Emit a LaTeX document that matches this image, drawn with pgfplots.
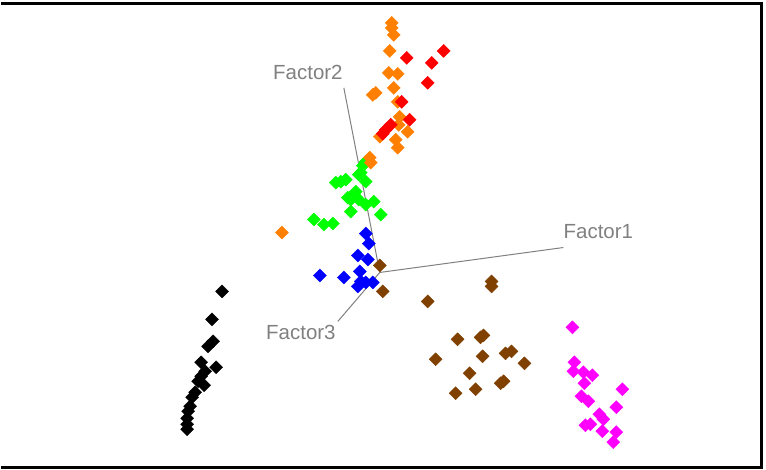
\documentclass[border=0pt]{standalone}
\usepackage{pgfplots}
\pgfplotsset{compat=1.18}
\usepackage{fontspec}
\setmainfont{Liberation Sans}
\definecolor{corange}{RGB}{255,128,0}
\definecolor{cbrown}{RGB}{128,64,0}
\definecolor{cmag}{RGB}{255,0,255}
\definecolor{cgreen}{RGB}{0,255,0}
\definecolor{cblue}{RGB}{0,0,255}
\definecolor{cred}{RGB}{255,0,0}
\definecolor{fgray}{RGB}{128,128,128}
\begin{document}
\begin{tikzpicture}
\begin{axis}[
  scale only axis, width=766pt, height=470pt,
  xmin=0, xmax=766, ymin=0, ymax=470, y dir=reverse,
  axis line style={draw=none}, ticks=none, clip=false,
  every axis plot/.append style={only marks, mark=square*, mark size=4.6pt},
]
% black
\addplot[black, mark options={fill=black, rotate=45}] coordinates {
(221,292) (211,320) (212,342) (207,347) (200,363) (215,368) (204,372) (200,377)
(197,382) (203,386) (194,393) (191,398) (189,407) (187,412) (186,419) (186,425) (186,430)
};
% magenta
\addplot[cmag, mark options={fill=cmag, rotate=45}] coordinates {
(572,328) (574,363) (573,372) (583,373) (584,384) (592,376) (622,390) (581,397)
(588,402) (616,408) (599,415) (603,420) (590,425) (585,426) (602,432) (616,433) (613,443)
};
% brown
\addplot[cbrown, mark options={fill=cbrown, rotate=45}] coordinates {
(379,266) (382,292) (427,302) (491,282) (491,287) (457,340) (480,338) (483,336)
(435,360) (482,357) (505,354) (511,352) (524,364) (469,374) (500,384) (503,382)
(475,390) (455,394)
};
% blue
\addplot[cblue, mark options={fill=cblue, rotate=45}] coordinates {
(365,234) (368,244) (357,256) (367,260) (319,276) (343,278) (359,272)
(365,283) (357,287) (372,283) (360,282)
};
% green
\addplot[cgreen, mark options={fill=cgreen, rotate=45}] coordinates {
(365,162) (360,173) (362,166) (340,182) (335,183) (345,180) (358,175) (365,182) (353,195)
(350,200) (358,200) (355,192) (347,198) (373,202) (365,205) (350,212) (380,215) (313,220) (323,225) (332,224)
};
% orange
\addplot[corange, mark options={fill=corange, rotate=45}] coordinates {
(391,23) (391,28) (393,35) (389,51) (388,73) (397,74) (393,88) (372,95) (375,93)
(397,102) (399,117) (398,125) (407,132) (379,137) (395,140) (397,148) (369,158)
(370,163) (281,233)
};
% red
\addplot[cred, mark options={fill=cred, rotate=45}] coordinates {
(406,58) (443,51) (431,63) (427,83) (401,102) (409,120) (390,125) (385,130) (382,134)
};
% factor axes
\addplot[fgray, line width=1pt, no markers, sharp plot] coordinates {(379,273) (563,248)};
\addplot[fgray, line width=1pt, no markers, sharp plot] coordinates {(379,273) (343,88)};
\addplot[fgray, line width=1pt, no markers, sharp plot] coordinates {(379,273) (337,322)};
\node[fgray, font=\fontsize{20.5}{22}\selectfont] at (axis cs:598,232) {Factor1};
\node[fgray, font=\fontsize{20.5}{22}\selectfont] at (axis cs:307,73) {Factor2};
\node[fgray, font=\fontsize{20.5}{22}\selectfont] at (axis cs:300,333) {Factor3};
% frame
\draw[black, line width=3pt] (axis cs:0,3.3) -- (axis cs:761.5,3.3) -- (axis cs:761.5,468.8) -- (axis cs:0,468.8);
\end{axis}
\end{tikzpicture}
\end{document}
